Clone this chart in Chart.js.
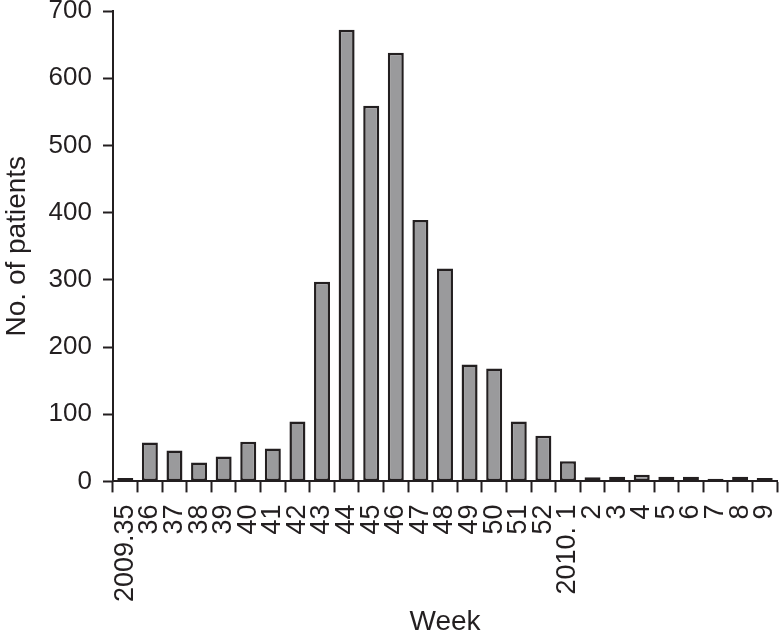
<!DOCTYPE html>
<html>
<head>
<meta charset="utf-8">
<script src="https://cdn.jsdelivr.net/npm/chart.js@4"></script>
<style>
  html, body { margin: 0; padding: 0; background: #fff; }
  #wrap { width: 780px; height: 632px; }
</style>
</head>
<body>
<div id="wrap"><canvas id="chart"></canvas></div>
<script>
// Weekly patient counts, week 35 of 2009 to week 9 of 2010
const weeks = ['2009.35', '36', '37', '38', '39', '40', '41', '42', '43', '44', '45', '46', '47',
    '48', '49', '50', '51', '52', '2010. 1', '2', '3', '4', '5', '6', '7', '8', '9'];
const patients = [5, 58, 46, 28, 37, 59, 49, 89, 297, 672, 559, 638, 389,
    317, 174, 168, 89, 68, 30, 6, 7, 10, 7, 7, 4, 7, 5];
const yTicks = [0, 100, 200, 300, 400, 500, 600, 700];

const ink = '#231f20';
const font = { family: 'Liberation Sans, Arial, sans-serif' };

new Chart(document.getElementById('chart'), {
    type: 'bar',
    data: {
        labels: weeks,
        datasets: [{
            data: patients,
            backgroundColor: '#9a9a9c',
            borderColor: ink,
            borderWidth: 2.5,
            borderSkipped: false,
            categoryPercentage: 1,
            barPercentage: 0.65
        }]
    },
    options: {
        responsive: true,
        maintainAspectRatio: false,
        animation: false,
        layout: { padding: { top: 11, right: 3, left: 0, bottom: -4 } },
        plugins: {
            legend: { display: false },
            tooltip: { enabled: false }
        },
        scales: {
            x: {
                afterFit: axis => { axis.paddingRight = 0; },
                grid: {
                    display: true,
                    drawOnChartArea: false,
                    drawTicks: true,
                    tickLength: 11,
                    tickWidth: 2,
                    tickColor: ink,
                    offset: true
                },
                border: { display: true, color: ink, width: 2 },
                ticks: {
                    color: ink,
                    font: { ...font, size: 27 },
                    minRotation: 90,
                    maxRotation: 90,
                    autoSkip: false,
                    padding: 12
                },
                title: {
                    display: true,
                    text: 'Week',
                    color: ink,
                    font: { ...font, size: 28, lineHeight: 1 },
                    padding: { top: -6, bottom: 0 }
                }
            },
            y: {
                min: 0,
                max: 700,
                afterBuildTicks: axis => { axis.ticks = yTicks.map(v => ({ value: v })); },
                afterFit: axis => { axis.paddingTop = 0; },
                grid: {
                    display: true,
                    drawOnChartArea: false,
                    drawTicks: true,
                    tickLength: 10,
                    tickWidth: 2,
                    tickColor: ink
                },
                border: { display: true, color: ink, width: 2 },
                ticks: {
                    color: ink,
                    font: { ...font, size: 26 },
                    padding: 11
                },
                title: {
                    display: true,
                    text: 'No. of patients',
                    color: ink,
                    font: { ...font, size: 28 },
                    padding: { top: 0, bottom: 4 }
                }
            }
        }
    }
});
</script>
</body>
</html>
